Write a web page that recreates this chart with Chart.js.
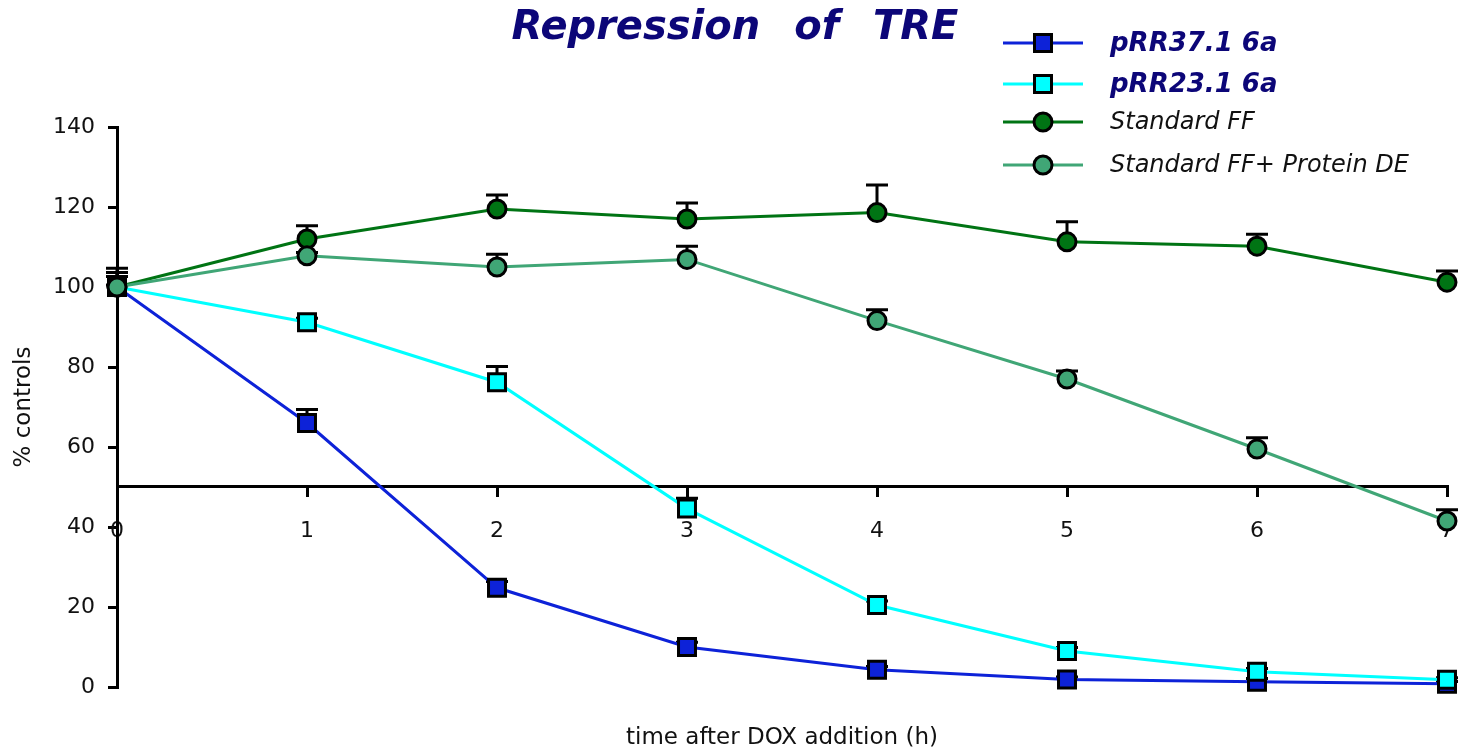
<!DOCTYPE html>
<html>
<head>
<meta charset="utf-8">
<script src="https://cdn.jsdelivr.net/npm/chart.js@4.4.0/dist/chart.umd.min.js"></script>
<style>
  html, body { margin: 0; padding: 0; background: #ffffff; }
  #wrap { width: 1458px; height: 749px; position: relative; }
</style>
</head>
<body>
<div id="wrap"><canvas id="c" width="1458" height="749"></canvas></div>
<script>
const chartTitle = "Repression of TRE";
const xTitle = "time after DOX addition (h)";
const yTitle = "% controls";
const hours = [0, 1, 2, 3, 4, 5, 6, 7];
const seriesNames = ["pRR37.1 6a", "pRR23.1 6a", "Standard FF", "Standard FF+ Protein DE"];
const pRR37 = [100, 66, 24.8, 10, 4.3, 1.9, 1.3, 0.8];
const pRR37Err = [0.5, 3.4, 1.6, 1.2, 0.8, 0.6, 0.8, 0.6];
const pRR23 = [100, 91.2, 76.2, 44.6, 20.5, 9.0, 3.8, 1.8];
const pRR23Err = [2.6, 1.0, 3.9, 2.6, 1.0, 0.9, 0.8, 0.5];
const stdFF = [100, 112, 119.5, 117, 118.6, 111.3, 110.2, 101.2];
const stdFFErr = [4.7, 3.3, 3.5, 4.0, 6.9, 5.0, 3.0, 2.8];
const stdFFDE = [100, 107.8, 105, 106.9, 91.6, 77, 59.5, 41.5];
const stdFFDEErr = [3.6, 0.8, 3.2, 3.3, 2.7, 2.0, 2.8, 2.8];
const yTicks = [0, 20, 40, 60, 80, 100, 120, 140];

const colors = ["#0d22d8", "#00ffff", "#007414", "#40a676"];
const styles = ["rect", "rect", "circle", "circle"];
const boldLegend = [true, true, false, false];
const allValues = [pRR37, pRR23, stdFF, stdFFDE];
const allErrors = [pRR37Err, pRR23Err, stdFFErr, stdFFDEErr];

function pts(vals) { return hours.map((h, i) => ({ x: h, y: vals[i] })); }

const datasets = allValues.map((vals, k) => ({
  label: seriesNames[k],
  data: pts(vals),
  errors: allErrors[k],
  borderColor: colors[k],
  backgroundColor: colors[k],
  borderWidth: 3,
  pointStyle: styles[k],
  pointRadius: styles[k] === "rect" ? 12 : 9,
  pointBorderWidth: 3,
  pointBorderColor: "#000000",
  pointBackgroundColor: colors[k],
  tension: 0,
  clip: false,
  order: 4 - k
}));

const errorBars = {
  id: "errorBars",
  beforeDatasetsDraw(chart) {
    const ctx = chart.ctx;
    const xs = chart.scales.x, ys = chart.scales.y;
    ctx.save();
    ctx.strokeStyle = "#000000";
    ctx.lineWidth = 3;
    chart.data.datasets.forEach(ds => {
      ds.data.forEach((p, i) => {
        const e = ds.errors[i];
        if (!e) return;
        const px = xs.getPixelForValue(p.x);
        const py = ys.getPixelForValue(p.y);
        const pt = ys.getPixelForValue(p.y + e);
        ctx.beginPath();
        ctx.moveTo(px, py);
        ctx.lineTo(px, pt);
        ctx.moveTo(px - 11, pt);
        ctx.lineTo(px + 11, pt);
        ctx.stroke();
      });
    });
    ctx.restore();
  }
};

const titleAndLegend = {
  id: "titleAndLegend",
  afterDraw(chart) {
    const ctx = chart.ctx;
    ctx.save();
    ctx.fillStyle = "#0c0678";
    ctx.font = "italic bold 40px 'DejaVu Sans'";
    ctx.textBaseline = "middle";
    ctx.textAlign = "center";
    try { ctx.wordSpacing = "20px"; } catch (e) {}
    ctx.fillText(chartTitle, 735, 29);
    try { ctx.wordSpacing = "0px"; } catch (e) {}
    const rows = [43, 84, 122, 165];
    ctx.textAlign = "left";
    rows.forEach((ry, k) => {
      ctx.strokeStyle = colors[k];
      ctx.lineWidth = 3;
      ctx.beginPath();
      ctx.moveTo(1003, ry);
      ctx.lineTo(1083, ry);
      ctx.stroke();
      ctx.fillStyle = colors[k];
      ctx.strokeStyle = "#000000";
      ctx.lineWidth = 3;
      ctx.beginPath();
      if (styles[k] === "rect") {
        ctx.rect(1043 - 8.5, ry - 8.5, 17, 17);
      } else {
        ctx.arc(1043, ry, 9, 0, Math.PI * 2);
      }
      ctx.fill();
      ctx.stroke();
      if (boldLegend[k]) {
        ctx.fillStyle = "#0c0678";
        ctx.font = "italic bold 26px 'DejaVu Sans'";
      } else {
        ctx.fillStyle = "#111111";
        ctx.font = "italic 24px 'DejaVu Sans'";
      }
      ctx.fillText(seriesNames[k], 1110, ry + 1);
    });
    ctx.restore();
  }
};

new Chart(document.getElementById("c"), {
  type: "line",
  data: { datasets },
  plugins: [errorBars, titleAndLegend],
  options: {
    responsive: false,
    animation: false,
    devicePixelRatio: 1,
    layout: { autoPadding: false, padding: { top: 127, right: 11, left: 0, bottom: 0 } },
    plugins: {
      legend: { display: false },
      title: { display: false },
      tooltip: { enabled: false }
    },
    scales: {
      x: {
        type: "linear",
        min: 0,
        max: 7,
        position: { y: 50 },
        afterFit(s) { s.height = 0; s.paddingLeft = 0; s.paddingRight = 0; },
        border: { display: true, color: "#000000", width: 3 },
        grid: { drawOnChartArea: false, drawTicks: true, tickLength: 9, color: "#000000", lineWidth: 3 },
        ticks: {
          stepSize: 1,
          color: "#111111",
          padding: 22,
          font: { family: "'DejaVu Sans'", size: 22 },
          maxRotation: 0
        }
      },
      x2: {
        type: "linear",
        axis: "x",
        min: 0,
        max: 7,
        position: "bottom",
        afterFit(s) { s.height = 62; s.paddingLeft = 0; s.paddingRight = 0; },
        border: { display: false },
        grid: { display: false },
        ticks: { display: false },
        title: {
          display: true,
          text: xTitle,
          color: "#111111",
          padding: { top: 0, bottom: -3 },
          font: { family: "'DejaVu Sans'", size: 23 }
        }
      },
      y: {
        type: "linear",
        min: 0,
        max: 140,
        afterFit(s) { s.width = 117; },
        afterBuildTicks(s) { s.ticks = yTicks.map(v => ({ value: v })); },
        border: { display: true, color: "#000000", width: 3 },
        grid: { drawOnChartArea: false, drawTicks: true, tickLength: 9, color: "#000000", lineWidth: 3 },
        ticks: {
          color: "#111111",
          padding: 13,
          font: { family: "'DejaVu Sans'", size: 22 }
        },
        title: {
          display: true,
          text: yTitle,
          color: "#111111",
          padding: { top: 10, bottom: 0 },
          font: { family: "'DejaVu Sans'", size: 23 }
        }
      }
    }
  }
});
</script>
</body>
</html>
